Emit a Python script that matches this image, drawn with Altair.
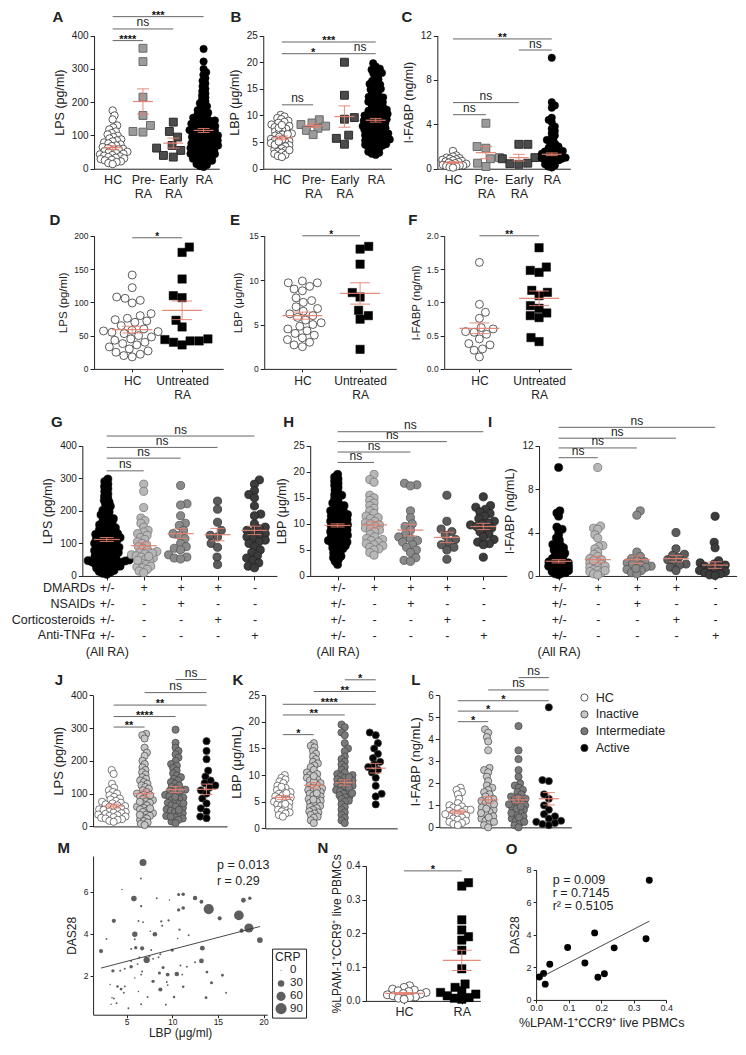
import math
import altair as alt
import pandas as pd

# ============================================================ DATA
# ---- A : LPS (pg/ml)
A_CATS = ['HC', 'Pre-|RA', 'Early|RA', 'RA']
A_HC = [175, 160, 148, 130, 124, 118, 112, 107, 103, 99, 95, 91, 88, 85, 82, 79, 76, 73, 70, 68, 65, 62,
        60, 58, 55, 53, 51, 49, 47, 45, 43, 41, 39, 37, 35, 33, 31, 29, 27, 25, 22, 20, 17, 14]
A_PRE = [362, 322, 215, 160, 130, 110, 112]
A_EARLY = [140, 112, 95, 70, 62, 55, 40, 35]
A_RA = [360, 322, 300, 290, 282, 272, 264, 256, 248, 240, 233, 226, 220, 214, 208, 202, 197, 192, 188, 184,
        180, 176, 172, 168, 165, 162, 159, 156, 153, 150, 147, 145, 142, 140, 138, 136, 134, 132, 130, 128,
        126, 124, 122, 120, 118, 116, 114, 112, 110, 108, 106, 104, 102, 100, 98, 96, 94, 92, 90, 88, 86, 84,
        82, 80, 78, 76, 74, 72, 70, 68, 66, 64, 62, 60, 58, 56, 54, 52, 50, 48, 46, 44, 42, 40, 38, 36, 34,
        32, 30, 28, 26, 24, 22, 20, 17, 14, 11, 8, 5, 125, 115, 105, 95, 85, 75, 65, 55, 45, 135, 145]
A_MEAN = [63, 202, 77, 115]
A_SEM = [6, 38, 15, 6]
A_SIG = [(0, 1, 385, '****'), (0, 2, 420, 'ns'), (0, 3, 457, '***')]

# ---- B : LBP (ug/ml)
B_HC = [10.1, 9.8, 9.5, 9.3, 9.0, 8.8, 8.6, 8.3, 8.0, 7.8, 7.5, 7.3, 7.0, 6.8, 6.6, 6.4, 6.2, 6.0, 5.8, 5.6,
        5.4, 5.2, 5.0, 4.8, 4.6, 4.4, 4.2, 4.0, 3.8, 3.6, 3.4, 3.2, 3.0, 2.8, 2.6, 2.4, 2.2, 5.5, 6.5, 7.7,
        4.5, 3.5, 8.2, 5.1]
B_PRE = [9.2, 8.6, 8.3, 8.0, 7.6, 7.2, 6.4]
B_EARLY = [20.0, 13.8, 9.6, 9.3, 6.3, 5.7, 4.6]
B_RA = [19.8, 19.2, 18.6, 18.3, 18.0, 17.6, 17.2, 16.8, 16.5, 16.2, 15.9, 15.6, 15.3, 15.0, 14.7, 14.4, 14.1,
        13.8, 13.5, 13.2, 13.0, 12.8, 12.5, 12.3, 12.1, 11.9, 11.7, 11.5, 11.3, 11.1, 10.9, 10.7, 10.5, 10.3,
        10.2, 10.0, 9.9, 9.7, 9.6, 9.4, 9.3, 9.1, 9.0, 8.8, 8.7, 8.5, 8.4, 8.2, 8.1, 7.9, 7.8, 7.6, 7.5, 7.3,
        7.2, 7.0, 6.9, 6.7, 6.6, 6.4, 6.3, 6.1, 6.0, 5.8, 5.7, 5.5, 5.4, 5.2, 5.1, 4.9, 4.8, 4.6, 4.5, 4.3,
        4.2, 4.0, 3.8, 3.6, 3.4, 3.2, 3.0, 2.8, 2.6, 12.6, 11.0, 9.8, 8.9, 8.0, 7.1, 6.2, 5.3, 4.4, 10.6,
        13.4, 14.9, 15.8, 17.9, 18.8]
B_MEAN = [5.8, 8.1, 9.8, 9.1]
B_SEM = [0.35, 0.35, 2.0, 0.35]
B_SIG = [(0, 1, 12.0, 'ns'), (0, 2, 21.6, '*'), (2, 3, 21.6, 'ns'), (0, 3, 23.8, '***')]

# ---- C : I-FABP (ng/ml)
C_HC = [1.6, 1.2, 1.1, 1.0, 0.95, 0.9, 0.85, 0.8, 0.75, 0.7, 0.65, 0.6, 0.55, 0.5, 0.45, 0.4, 0.35, 0.3,
        0.28, 0.25, 0.2, 0.15, 0.1]
C_PRE = [4.1, 2.0, 1.85, 1.0, 0.9, 0.5, 0.2]
C_EARLY = [2.2, 2.2, 1.0, 0.9, 0.5, 0.45, 0.4]
C_RA = [10.0, 6.0, 5.7, 5.5, 4.6, 4.4, 4.2, 3.8, 3.6, 3.4, 3.2, 3.0, 2.8, 2.6, 2.5, 2.4, 2.2, 2.1, 2.0, 1.9,
        1.8, 1.7, 1.6, 1.55, 1.5, 1.45, 1.4, 1.35, 1.3, 1.25, 1.2, 1.15, 1.1, 1.05, 1.0, 0.95, 0.9, 0.85,
        0.8, 0.75, 0.7, 0.6, 0.5, 0.4, 0.3, 0.2, 0.1]
C_MEAN = [0.55, 1.45, 1.0, 1.3]
C_SEM = [0.08, 0.55, 0.3, 0.12]
C_SIG = [(0, 1, 4.87, 'ns'), (0, 2, 5.96, 'ns'), (2, 3, 10.7, 'ns'), (0, 3, 11.7, '**')]

# ---- D / E / F : HC vs untreated RA
DEF_CATS = ['HC', 'Untreated|RA']
D_HC = [141, 122, 108, 106, 103, 99, 83, 80, 76, 74, 72, 70, 65, 60, 58, 57, 56, 55, 53, 50, 48, 45, 43,
        40, 38, 36, 33, 30, 27, 25, 22, 20, 18]
D_RA = [183, 175, 135, 110, 107, 73, 63, 45, 44, 42, 42, 40, 36]
D_MEAN = [59, 88]
D_SEM = [5, 14]
D_SIG = [(0, 1, 197, '*')]
E_HC = [9.9, 9.7, 9.7, 9.3, 9.0, 8.8, 8.0, 7.7, 7.5, 7.0, 6.8, 6.5, 6.2, 6.0, 5.8, 5.5, 5.2, 5.0, 4.8, 4.5,
        4.3, 4.0, 3.8, 3.5, 3.3, 3.0, 2.7, 2.5]
E_RA = [13.8, 13.5, 11.8, 8.6, 8.1, 6.6, 6.0, 5.6, 2.2]
E_MEAN = [6.0, 8.5]
E_SEM = [0.4, 1.2]
E_SIG = [(0, 1, 15.0, '*')]
F_HC = [1.6, 0.97, 0.85, 0.76, 0.62, 0.6, 0.56, 0.55, 0.52, 0.45, 0.38, 0.36, 0.30, 0.28, 0.18]
F_RA = [1.82, 1.53, 1.48, 1.45, 1.18, 1.15, 1.10, 0.95, 0.91, 0.84, 0.80, 0.77, 0.47, 0.41]
F_MEAN = [0.61, 1.06]
F_SEM = [0.08, 0.11]
F_SIG = [(0, 1, 2.0, '**')]

# ---- G / H / I : treatment groups
TREAT_COLS = ['+/-|+/-|+/-|+/-|(All RA)', '+|-|-|-', '+|+|-|-', '+|-|+|-', '-|-|-|+']
TREAT_ROWS = ['DMARDs', 'NSAIDs', 'Corticosteroids', 'Anti-TNFα']
G_ALL = [298, 290, 282, 275, 268, 260, 252, 245, 238, 232, 226, 220, 214, 208, 202, 197, 192, 188, 184, 180,
         176, 172, 168, 164, 160, 157, 154, 151, 148, 145, 142, 139, 136, 133, 130, 128, 126, 124, 122, 120,
         118, 116, 114, 112, 110, 108, 106, 104, 102, 100, 98, 96, 94, 92, 90, 88, 86, 84, 82, 80, 78, 76, 74,
         72, 70, 68, 66, 64, 62, 60, 58, 56, 54, 52, 50, 49, 47, 46, 45, 44, 43, 42, 41, 40, 38, 36, 34, 32,
         30, 28, 26, 24, 22, 20, 17, 14, 11, 8, 5]
G_DMARD = [282, 260, 210, 178, 170, 162, 150, 140, 135, 130, 125, 118, 112, 105, 100, 95, 90, 85, 80, 75,
           72, 68, 65, 62, 58, 55, 50, 45, 40, 35, 30, 28, 25, 20, 15, 10, 70, 60, 48]
G_NSAID = [278, 222, 218, 185, 162, 155, 140, 130, 125, 115, 100, 90, 85, 80, 65, 58, 55, 52]
G_CORT = [230, 205, 165, 140, 125, 120, 100, 88, 58, 35]
G_TNF = [295, 282, 262, 250, 240, 215, 190, 185, 160, 150, 145, 140, 135, 130, 125, 120, 115, 110, 105, 100,
         90, 80, 72, 62, 55, 48, 40, 30, 25]
G_MEAN = [112, 93, 130, 127, 140]
G_SEM = [6, 9, 15, 19, 13]
G_SIG = [(0, 1, 323, 'ns'), (0, 2, 362, 'ns'), (0, 3, 395, 'ns'), (0, 4, 430, 'ns')]

H_ALL = [19.5, 19.0, 18.6, 18.2, 17.8, 17.4, 17.0, 16.5, 16.0, 15.6, 15.2, 14.8, 14.4, 14.0, 13.7, 13.4,
         13.1, 12.8, 12.5, 12.2, 12.0, 11.8, 11.6, 11.4, 11.2, 11.0, 10.8, 10.6, 10.4, 10.2, 10.0, 9.8, 9.6,
         9.4, 9.2, 9.0, 8.8, 8.6, 8.4, 8.2, 8.0, 7.8, 7.6, 7.4, 7.2, 7.0, 6.8, 6.6, 6.4, 6.2, 6.0, 5.8, 5.6,
         5.4, 5.2, 5.0, 4.7, 4.4, 4.1, 3.8, 3.5, 3.2, 2.8, 2.2, 11.5, 10.5, 9.5, 8.5, 7.5, 6.5, 12.5, 13.5,
         15.5]
H_DMARD = [19.5, 18.5, 18.0, 15.5, 15.0, 14.5, 14.0, 13.5, 13.0, 12.5, 12.0, 11.5, 11.2, 11.0, 10.5, 10.2,
           10.0, 9.8, 9.5, 9.2, 9.0, 8.8, 8.5, 8.0, 7.5, 7.2, 7.0, 6.8, 6.5, 6.2, 6.0, 5.8, 5.5, 5.2, 5.0,
           4.5, 4.0]
H_NSAID = [17.8, 17.5, 17.3, 12.5, 11.2, 10.0, 9.5, 8.8, 8.0, 7.5, 7.2, 6.8, 6.5, 6.0, 5.5, 5.0, 4.5, 3.5,
           3.0, 2.8]
H_CORT = [15.5, 10.5, 9.0, 8.5, 7.8, 7.0, 6.5, 6.0, 5.5, 5.0, 3.2]
H_TNF = [15.2, 13.5, 13.2, 12.8, 12.3, 12.0, 11.5, 11.0, 10.5, 10.2, 10.0, 9.8, 9.5, 9.2, 9.0, 8.5, 8.0,
         7.5, 7.0, 6.5, 6.2, 6.0, 3.6]
H_MEAN = [9.7, 9.8, 8.8, 7.4, 9.5]
H_SEM = [0.3, 0.6, 1.1, 1.0, 0.6]
H_SIG = [(0, 1, 21.8, 'ns'), (0, 2, 23.8, 'ns'), (0, 3, 25.8, 'ns'), (0, 4, 27.7, 'ns')]

I_ALL = [10.0, 6.0, 5.8, 5.5, 4.5, 4.3, 4.2, 3.8, 3.5, 3.3, 3.0, 2.9, 2.8, 2.7, 2.6, 2.5, 2.4, 2.3, 2.2,
         2.1, 2.0, 1.9, 1.8, 1.7, 1.6, 1.5, 1.4, 1.3, 1.2, 1.1, 1.0, 0.9, 0.8, 0.7, 0.6, 0.5, 0.4, 0.3,
         0.2, 0.1, 1.25, 1.05, 0.85, 0.65, 0.45, 0.25, 1.15, 0.75]
I_DMARD = [10.0, 4.6, 4.4, 4.3, 3.8, 3.5, 2.8, 2.7, 2.5, 2.2, 2.0, 1.8, 1.6, 1.5, 1.3, 1.2, 1.1, 1.0, 0.9,
           0.8, 0.7, 0.6, 0.5, 0.4, 0.3, 0.2, 0.1, 1.4, 0.9, 0.5]
I_NSAID = [6.0, 5.6, 2.2, 1.8, 1.6, 1.4, 1.3, 1.2, 1.0, 0.9, 0.8, 0.6, 0.5, 0.3, 0.2, 1.1, 0.7]
I_CORT = [4.0, 2.5, 2.0, 1.9, 1.7, 1.5, 1.3, 1.1, 1.0, 0.8, 0.5]
I_TNF = [5.5, 3.1, 2.6, 1.4, 1.2, 1.1, 1.0, 0.9, 0.8, 0.7, 0.6, 0.5, 0.4, 0.3, 0.2, 0.1, 0.05]
I_MEAN = [1.35, 1.5, 1.5, 1.6, 1.0]
I_SEM = [0.15, 0.3, 0.35, 0.3, 0.3]
I_SIG = [(0, 1, 10.9, 'ns'), (0, 2, 11.8, 'ns'), (0, 3, 12.7, 'ns'), (0, 4, 13.7, 'ns')]

# ---- J / K / L : disease activity
ACT_NAMES = ['HC', 'Inactive', 'Intermediate', 'Active']
J_HC = [172, 160, 130, 118, 110, 105, 100, 95, 90, 85, 82, 78, 75, 72, 70, 67, 64, 62, 60, 57, 55, 52, 50,
        48, 46, 44, 42, 40, 38, 36, 34, 32, 30, 28, 26, 24, 22, 20, 17, 14]
J_INACT = [282, 278, 268, 240, 225, 215, 200, 190, 180, 172, 165, 158, 150, 145, 140, 135, 130, 125, 120, 115,
           110, 105, 100, 96, 92, 88, 84, 80, 76, 72, 68, 64, 60, 56, 52, 48, 44, 40, 36, 32, 28, 24, 20, 16,
           12, 8, 4, 95, 75, 55, 35]
J_INTER = [295, 255, 240, 230, 220, 210, 200, 190, 185, 178, 170, 162, 155, 150, 145, 140, 135, 130, 125, 120,
           116, 112, 108, 104, 100, 96, 92, 88, 84, 80, 76, 72, 68, 64, 60, 56, 52, 48, 44, 40, 36, 32, 28, 24,
           20, 15, 10, 110, 90, 70, 50, 30]
J_ACT = [260, 230, 205, 170, 152, 140, 132, 125, 118, 110, 100, 85, 70, 55, 45, 30, 25]
J_MEAN = [62, 100, 112, 113]
J_SEM = [6, 10, 9, 16]
J_SIG = [(0, 1, 303, '**'), (0, 2, 335, '****'), (0, 3, 370, '**'), (1, 3, 408, 'ns'), (2, 3, 448, 'ns')]

K_HC = [10.0, 9.5, 9.2, 8.8, 8.5, 8.0, 7.6, 7.2, 7.0, 6.8, 6.5, 6.2, 6.0, 5.8, 5.5, 5.3, 5.0, 4.8, 4.5, 4.3,
        4.0, 3.8, 3.5, 3.2, 3.0, 2.8, 2.5, 2.2, 6.6, 5.6, 4.6, 7.8]
K_INACT = [16.0, 15.5, 15.2, 14.5, 14.0, 13.5, 13.0, 12.5, 12.2, 11.8, 11.5, 11.0, 10.5, 10.2, 10.0, 9.5, 9.2,
           9.0, 8.5, 8.2, 8.0, 7.8, 7.5, 7.2, 7.0, 6.8, 6.5, 6.2, 6.0, 5.8, 5.5, 5.2, 5.0, 4.8, 4.5, 4.2, 4.0,
           3.8, 3.5, 3.2, 3.0, 2.8, 2.5, 2.2, 2.0, 1.5, 1.0, 7.4, 6.6, 5.4, 8.8, 9.8]
K_INTER = [19.5, 19.0, 18.0, 17.5, 16.0, 15.0, 14.5, 13.5, 13.0, 12.5, 12.0, 11.5, 11.0, 10.5, 10.2, 10.0, 9.8,
           9.5, 9.2, 9.0, 8.8, 8.5, 8.2, 8.0, 7.8, 7.5, 7.2, 7.0, 6.8, 6.5, 6.2, 6.0, 5.8, 5.5, 5.2, 5.0, 4.5,
           4.0, 3.5, 3.0, 2.5, 2.0, 1.5, 1.0, 8.6, 7.6, 6.6, 9.6]
K_ACT = [18.0, 17.5, 16.0, 15.0, 14.0, 13.2, 12.5, 12.0, 11.5, 11.0, 10.5, 9.5, 8.0, 6.5, 6.0, 4.5]
K_MEAN = [5.8, 8.1, 8.6, 11.3]
K_SEM = [0.35, 0.5, 0.5, 0.9]
K_SIG = [(0, 1, 17.6, '*'), (0, 2, 21.3, '**'), (0, 3, 23.3, '****'), (1, 3, 25.7, '**'), (2, 3, 27.9, '*')]

L_HC = [1.8, 1.7, 1.6, 1.5, 1.3, 1.1, 1.0, 0.95, 0.9, 0.85, 0.8, 0.75, 0.7, 0.65, 0.6, 0.55, 0.5, 0.45, 0.4,
        0.35, 0.3, 0.25, 0.2, 0.15, 0.1, 0.6, 0.8]
L_INACT = [4.45, 4.3, 4.1, 3.9, 3.5, 2.7, 2.6, 2.5, 2.3, 2.1, 1.9, 1.8, 1.7, 1.6, 1.5, 1.4, 1.3, 1.2, 1.1, 1.0,
           0.9, 0.8, 0.7, 0.6, 0.5, 0.4, 0.3, 0.2, 0.1, 0.0, 1.25, 1.05, 0.85, 0.65, 0.45, 0.25]
L_INTER = [4.6, 3.5, 3.1, 2.6, 2.3, 2.0, 1.9, 1.8, 1.7, 1.6, 1.5, 1.4, 1.3, 1.2, 1.1, 1.0, 0.9, 0.8, 0.7, 0.6,
           0.5, 0.4, 0.3, 0.2, 0.1, 0.0, 1.25, 1.05, 0.85, 0.65, 0.45, 0.25, 1.35, 0.95]
L_ACT = [5.45, 2.15, 2.1, 1.5, 1.3, 1.0, 0.8, 0.6, 0.5, 0.4, 0.3, 0.25, 0.2, 0.15, 0.1]
L_MEAN = [0.7, 1.25, 1.25, 1.3]
L_SEM = [0.08, 0.15, 0.13, 0.28]
L_SIG = [(0, 1, 4.8, '*'), (0, 2, 5.28, '*'), (0, 3, 5.75, '*'), (1, 3, 6.24, 'ns'), (2, 3, 6.8, 'ns')]

# ---- M : LBP vs DAS28 (size = CRP)
M_LBP = [6.8, 6.57, 4.5, 5.8, 6.6, 8.3, 9.7, 10.7, 11.2, 12.5, 13.2, 14.0, 10.7, 11.2, 15.2, 17.3, 17.8, 18.5,
         18.4, 17.6, 19.6, 3.6, 6.3, 6.8, 8.8, 9.6, 8.9, 5.9, 8.1, 10.8, 7.6, 2.8, 5.9, 2.2, 6.0, 6.7, 7.2,
         5.5, 7.7, 8.7, 10.0, 13.3, 13.2, 12.5, 11.6, 10.9, 5.5, 6.2, 7.5, 8.5, 9.0, 3.5, 4.3, 4.8, 5.5, 6.7,
         8.6, 9.5, 10.5, 11.1, 13.8, 15.5, 5.9, 6.6, 7.9, 9.4, 14.3, 3.2, 4.0, 4.4, 4.8, 8.7, 9.5, 11.2, 6.3,
         4.7, 3.4, 3.6, 7.3, 10.2, 13.7, 15.9, 3.3, 3.9, 6.6, 9.3, 5.2, 6.4, 7.9, 11.8, 10.6]
M_DAS = [7.39, 6.63, 6.1, 5.67, 5.31, 5.69, 5.6, 5.86, 5.88, 5.7, 5.52, 5.17, 5.13, 5.22, 4.73, 4.87, 5.59,
         5.69, 4.27, 4.14, 3.69, 4.61, 4.6, 4.55, 4.58, 4.63, 4.38, 3.97, 3.97, 4.19, 4.11, 3.75, 3.73, 3.17,
         3.33, 3.30, 2.75, 3.27, 3.22, 3.02, 3.22, 3.31, 2.7, 2.64, 2.42, 2.48, 2.42, 2.55, 2.92, 2.88, 2.39,
         2.23, 2.23, 2.33, 2.70, 2.20, 2.13, 2.05, 2.08, 2.05, 2.17, 2.02, 1.89, 2.05, 1.73, 1.70, 1.66, 1.58,
         1.48, 1.36, 1.48, 1.34, 1.55, 1.47, 1.25, 1.19, 0.95, 0.91, 0.98, 0.98, 0.95, 1.19, 0.64, 0.69, 0.64,
         0.61, 0.45, 2.86, 2.8, 3.92, 3.77]
M_CRP = [35, 2, 1, 22, 3, 2, 1, 6, 8, 14, 10, 75, 7, 9, 12, 68, 16, 8, 60, 12, 22, 12, 2, 2, 3, 3, 2, 20, 15, 3,
         1, 2, 2, 12, 7, 12, 28, 2, 2, 2, 7, 16, 16, 2, 2, 2, 8, 2, 2, 2, 6, 7, 2, 2, 2, 2, 6, 10, 14, 2, 5, 5,
         1, 2, 7, 2, 6, 1, 4, 5, 2, 12, 2, 4, 1, 2, 1, 2, 2, 4, 5, 2, 1, 2, 2, 2, 2, 2, 2, 2, 1]
M_FIT_X = [2.2, 19.6]
M_FIT_Y = [2.36, 4.34]
M_STATS = ['p = 0.013', 'r = 0.29']

# ---- N : %LPAM-1+CCR9+ live PBMCs
N_CATS = ['HC', 'RA']
N_HC = [0.045, 0.04, 0.035, 0.032, 0.03, 0.028, 0.025, 0.022, 0.02, 0.018, 0.015, 0.012, 0.01, 0.008, 0.005]
N_RA = [0.35, 0.34, 0.24, 0.21, 0.19, 0.18, 0.15, 0.095, 0.05, 0.04, 0.03, 0.025, 0.02, 0.015, 0.01, 0.008,
        0.005]
N_MEAN = [0.022, 0.12]
N_SEM = [0.003, 0.03]
N_SIG = [(0, 1, 0.385, '*')]

# ---- O : %LPAM-1+CCR9+ vs DAS28
O_PCT = [0.348, 0.338, 0.24, 0.21, 0.19, 0.18, 0.15, 0.097, 0.042, 0.023, 0.01, 0.028]
O_DAS = [7.36, 3.76, 3.20, 1.61, 1.39, 4.12, 2.27, 3.22, 2.19, 1.63, 1.41, 0.97]
O_FIT_X = [0.02, 0.348]
O_FIT_Y = [1.45, 4.84]
O_STATS = ['p = 0.009', 'r = 0.7145', 'r² = 0.5105']

LETTERS = list('ABCDEFGHIJKLMNO')

# ============================================================ LAYOUT / STYLE
W, H = 730, 1035
FONT = 'Liberation Sans'
INK = '#222222'
RED = '#e3806f'
SIGC = '#666666'


def X(r):
    return round(r * 0.978, 2)


def Y(r):
    return round((r - 3) * 0.986, 2)


LETTER_X = [51, 233, 408, 48, 232, 414, 50, 287, 493, 52, 235, 417, 57, 322, 515]
LETTER_Y = [12, 12, 12, 218, 218, 218, 423, 423, 423, 685, 685, 685, 855, 855, 856]

ST_HC = dict(shape='circle', size=55, fill='white', stroke='#333333', sw=0.8)
ST_BLK = dict(shape='circle', size=55, fill='black', stroke='black', sw=0.5)
ST_PRE = dict(shape='square', size=62, fill='#9b9b9b', stroke='#6a6a6a', sw=1)
ST_EARLY = dict(shape='square', size=62, fill='#4b4b4b', stroke='#2b2b2b', sw=1)
ST_BSQ = dict(shape='square', size=70, fill='black', stroke='black', sw=0.5)
ST_HC2 = dict(shape='circle', size=64, fill='white', stroke='#333333', sw=0.8)
ST_G0 = dict(shape='circle', size=66, fill='black', stroke='black', sw=0.5)
ST_G1 = dict(shape='circle', size=66, fill='#b7b7b7', stroke='#777777', sw=0.8)
ST_G2 = dict(shape='circle', size=66, fill='#8a8a8a', stroke='#555555', sw=0.8)
ST_G3 = dict(shape='circle', size=66, fill='#5c5c5c', stroke='#333333', sw=0.8)
ST_G4 = dict(shape='circle', size=66, fill='#3c3c3c', stroke='#222222', sw=0.8)
ST_ACT = dict(shape='circle', size=52, fill='', stroke='#444444', sw=0.7)
ACT_FILLS = ['white', '#c6c6c6', '#7a7a7a', 'black']

ROW1 = dict(y_top=31, y_bot=166, tick_fs=10, title_fs=12.5, xlab_fs=12.5, xlab_lh=14, xtick=0, xpad=5,
            mw=10, cw=6, ns_fs=12, star_fs=11)
ROW2 = dict(y_top=234, y_bot=369, tick_fs=8.5, title_fs=11.5, xlab_fs=12, xlab_lh=14, xtick=3, xpad=4,
            mw=20, cw=10, ns_fs=11, star_fs=10)
ROW3 = dict(y_top=447, y_bot=579, tick_fs=10, title_fs=12.5, xlab_fs=12.5, xlab_lh=15.8, xtick=4, xpad=2,
            mw=13, cw=7, ns_fs=12, star_fs=11)
ROW4 = dict(y_top=700, y_bot=833, tick_fs=10, title_fs=13, mw=10, cw=6, ns_fs=12, star_fs=11)

# beeswarm spacing (px) per group
LAY = {
    'A': dict(ROW1, axis_x=88, x_end=216, cats=(107, 200), ymax=400, yticks=[0, 100, 200, 300, 400],
              ytitle='LPS (pg/ml)', xlabels=A_CATS, d=[4.4, 10, 10, 3.9]),
    'B': dict(ROW1, axis_x=261, x_end=392, cats=(280, 376), ymax=25, yticks=[0, 5, 10, 15, 20, 25],
              ytitle='LBP (μg/ml)', xlabels=A_CATS, d=[4.1, 8, 10, 4.1]),
    'C': dict(ROW1, axis_x=439, x_end=575, cats=(455, 556), ymax=12, yticks=[0, 4, 8, 12],
              ytitle='I-FABP (ng/ml)', xlabels=A_CATS, d=[3.5, 9, 9, 3.8]),
    'D': dict(ROW2, axis_x=88, x_end=220, cats=(127, 178), ymax=200, yticks=[0, 50, 100, 150, 200],
              ytitle='LPS (pg/ml)', xlabels=DEF_CATS, d=[8.5, 9]),
    'E': dict(ROW2, axis_x=262, x_end=397, cats=(301, 360), ymax=15, yticks=[0, 5, 10, 15],
              ytitle='LBP (μg/ml)', xlabels=DEF_CATS, d=[8.5, 9]),
    'F': dict(ROW2, axis_x=446, x_end=576, cats=(482, 543), ymax=2.0, yticks=[0, 0.5, 1.0, 1.5, 2.0],
              yfmt='.1f', ytitle='I-FABP (ng/ml)', xlabels=DEF_CATS, d=[8.5, 9]),
    'G': dict(ROW3, axis_x=76, x_end=275, cats=(101, 252), ymax=400, yticks=[0, 100, 200, 300, 400],
              ytitle='LPS (pg/ml)', xlabels=TREAT_COLS, d=[4.1, 4.8, 6.5, 7.5, 6.5]),
    'H': dict(ROW3, axis_x=309, x_end=510, cats=(337, 486), ymax=25, yticks=[0, 5, 10, 15, 20, 25],
              ytitle='LBP (μg/ml)', xlabels=TREAT_COLS, d=[4.0, 5.0, 6.5, 7.5, 6.2]),
    'I': dict(ROW3, axis_x=543, x_end=745, cats=(563, 723), ymax=12, yticks=[0, 4, 8, 12],
              ytitle='I-FABP (ng/mL)', xlabels=TREAT_COLS, d=[3.7, 4.3, 5.5, 6.5, 5.5]),
    'J': dict(ROW4, axis_x=87, x_end=224, cats=(108, 203), ymax=400, yticks=[0, 100, 200, 300, 400],
              ytitle='LPS (pg/ml)', d=[4.4, 4.0, 4.4, 6.5]),
    'K': dict(ROW4, axis_x=263, x_end=398, cats=(281, 376), y_bot=835, ymax=25,
              yticks=[0, 5, 10, 15, 20, 25], ytitle='LBP (μg/mL)', d=[4.2, 4.0, 4.2, 6.5]),
    'L': dict(ROW4, axis_x=441, x_end=576, cats=(460, 553), y_bot=834, ymax=6,
              yticks=[0, 1, 2, 3, 4, 5, 6], ytitle='I-FABP (ng/mL)', d=[4.6, 4.6, 4.6, 6.5]),
    'N': dict(axis_x=366, x_end=483, cats=(405, 464), y_top=873, y_bot=1010, ymax=0.4,
              yticks=[0, 0.1, 0.2, 0.3, 0.4], yfmt='.1f', ytitle='%LPAM-1⁺CCR9⁺ live PBMCs',
              xlabels=N_CATS, tick_fs=10, title_fs=12, tpad=3, xlab_fs=12.5, xlab_lh=14, xtick=3, xpad=2,
              d=[5.8, 7.5], mw=19, cw=10, ns_fs=12, star_fs=11),
}


def ax(**kw):
    base = dict(grid=False, domainColor=INK, tickColor=INK, labelColor=INK, titleColor=INK,
                labelFont=FONT, titleFont=FONT, titleFontWeight='normal', domainWidth=1, tickWidth=1)
    base.update(kw)
    return alt.Axis(**base)


def swarm(vals, ppu, d):
    """deterministic beeswarm layout: horizontal pixel offset of every point"""
    order = sorted(range(len(vals)), key=lambda k: vals[k])
    placed = []
    out = [0.0] * len(vals)
    for n_, k in enumerate(order):
        y = vals[k] * ppu
        near = [(py, px) for (py, px) in placed if abs(py - y) < d]
        cands = [0.0]
        for py, px in near:
            dx = math.sqrt(max(d * d - (py - y) ** 2, 0.0))
            cands += [px - dx, px + dx]
        sgn = 1 if n_ % 2 else -1
        cands.sort(key=lambda c: (round(abs(c), 6), sgn * c))
        for c in cands:
            if all((c - px) ** 2 + (y - py) ** 2 >= d * d - 1e-6 for py, px in near):
                out[k] = c
                placed.append((y, c))
                break
    return out


ACT_LEGEND = alt.Legend(orient='none', legendX=X(583), legendY=Y(696), title=None, labelFont=FONT,
                        labelFontSize=12.5, labelColor=INK, symbolType='circle', symbolSize=52,
                        symbolStrokeColor='#333333', symbolStrokeWidth=0.8, rowPadding=3.8, labelOffset=5)


def cat_panel(groups, styles, means, sems, sig, L, names=None):
    n = len(groups)
    c0, c1 = L['cats']
    step = (c1 - c0) / (n - 1)
    xdom = [(L['axis_x'] - c0) / step, (L['x_end'] - c0) / step]
    x0, x1 = X(L['axis_x']), X(L['x_end'])
    yt, yb = Y(L['y_top']), Y(L['y_bot'])
    ymax = L['ymax']
    xs = alt.Scale(domain=xdom, range=[x0, x1], nice=False, zero=False)
    ys = alt.Scale(domain=[0, ymax], range=[yb, yt], nice=False, zero=False)
    ppu_y = (yb - yt) / ymax
    ppu_x = (x1 - x0) / (xdom[1] - xdom[0])

    ykw = dict(orient='left', offset=-x0, values=L['yticks'], title=L['ytitle'],
               labelFontSize=L['tick_fs'], titleFontSize=L['title_fs'], tickSize=4,
               labelPadding=2, titlePadding=L.get('tpad', 5))
    if 'yfmt' in L:
        ykw['format'] = L['yfmt']
    yaxis = ax(**ykw)
    if L.get('xlabels'):
        expr = ("split([" + ",".join("'" + s + "'" for s in L['xlabels']) +
                "][round(datum.value)], '|')")
        xaxis = ax(orient='bottom', offset=yb - H, values=list(range(n)), title=None, labelExpr=expr,
                   labelFontSize=L['xlab_fs'], labelLineHeight=L['xlab_lh'], tickSize=L['xtick'],
                   labelPadding=L['xpad'], labelOverlap=False, labelFlush=False, labelBound=False)
    else:
        xaxis = ax(orient='bottom', offset=yb - H, values=list(range(n)), title=None, labels=False,
                   ticks=False)

    # every sub-layer carries the same axis definition so that they merge into one axis
    def xq(f):
        return alt.X(f + ':Q', scale=xs, axis=xaxis)

    def yq(f):
        return alt.Y(f + ':Q', scale=ys, axis=yaxis)

    layers = []
    for gi, vals in enumerate(groups):
        st = styles[gi]
        offs = swarm(vals, ppu_y, L['d'][gi])
        df = pd.DataFrame({'x': [gi + o / ppu_x for o in offs], 'v': vals})
        mk_kw = dict(shape=st['shape'], size=st['size'], filled=True, opacity=1, stroke=st['stroke'],
                     strokeWidth=st['sw'])
        enc = dict(x=xq('x'), y=yq('v'))
        if names:
            df['g'] = names[gi]
            enc['fill'] = alt.Fill('g:N', scale=alt.Scale(domain=names, range=ACT_FILLS), legend=ACT_LEGEND)
        else:
            mk_kw['fill'] = st['fill']
        layers.append(alt.Chart(df).mark_point(**mk_kw).encode(**enc))

    mw = L['mw'] / ppu_x
    cw = L['cw'] / ppu_x
    ms = pd.DataFrame({'i': list(range(n)), 'm': means, 's': sems})
    ms['xl'] = ms['i'] - mw
    ms['xr'] = ms['i'] + mw
    ms['cl'] = ms['i'] - cw
    ms['cr'] = ms['i'] + cw
    ms['lo'] = ms['m'] - ms['s']
    ms['hi'] = ms['m'] + ms['s']
    base = alt.Chart(ms)
    layers += [
        base.mark_rule(color=RED, strokeWidth=1.3, opacity=0.9).encode(x=xq('xl'), x2=alt.X2('xr'), y=yq('m')),
        base.mark_rule(color=RED, strokeWidth=1, opacity=0.9).encode(x=xq('i'), y=yq('lo'), y2=alt.Y2('hi')),
        base.mark_rule(color=RED, strokeWidth=1, opacity=0.9).encode(x=xq('cl'), x2=alt.X2('cr'), y=yq('lo')),
        base.mark_rule(color=RED, strokeWidth=1, opacity=0.9).encode(x=xq('cl'), x2=alt.X2('cr'), y=yq('hi')),
    ]

    sd = pd.DataFrame({'a': [s[0] for s in sig], 'b': [s[1] for s in sig],
                       'v': [s[2] for s in sig], 'lab': [s[3] for s in sig]})
    sd['m'] = (sd['a'] + sd['b']) / 2
    layers.append(alt.Chart(sd).mark_rule(color=SIGC, strokeWidth=1).encode(
        x=xq('a'), x2=alt.X2('b'), y=yq('v')))
    ns = sd[sd['lab'] == 'ns']
    stars = sd[sd['lab'] != 'ns']
    if len(ns):
        layers.append(alt.Chart(ns).mark_text(font=FONT, fontSize=L['ns_fs'], color=INK,
                                              baseline='alphabetic', dy=-2.5).encode(
            x=xq('m'), y=yq('v'), text='lab:N'))
    if len(stars):
        layers.append(alt.Chart(stars).mark_text(font=FONT, fontSize=L['star_fs'], color='#111111',
                                                 fontWeight='bold', baseline='alphabetic', dy=2).encode(
            x=xq('m'), y=yq('v'), text='lab:N'))
    return alt.layer(*layers)


PXS = alt.Scale(domain=[0, W], range=[0, W], nice=False, zero=False)
PYS = alt.Scale(domain=[0, H], range=[0, H], nice=False, zero=False)


def pix_text(texts, xs_, ys_, **kw):
    df = pd.DataFrame({'t': texts, 'px': xs_, 'py': ys_})
    return alt.Chart(df).mark_text(font=FONT, color=INK, **kw).encode(
        x=alt.X('px:Q', scale=PXS, axis=None), y=alt.Y('py:Q', scale=PYS, axis=None), text='t:N')


def panel_m():
    xs = alt.Scale(domain=[1.33, 20.4], range=[X(87), X(265)], nice=False, zero=False)
    ys = alt.Scale(domain=[0.14, 7.7], range=[Y(1024), Y(863)], nice=False, zero=False)
    yaxis = ax(orient='left', offset=-X(87), values=[2, 4, 6], title='DAS28', labelFontSize=8.5,
               titleFontSize=12, tickSize=3, labelPadding=2, titlePadding=5)
    xaxis = ax(orient='bottom', offset=Y(1024) - H, values=[5, 10, 15, 20], title='LBP (μg/ml)',
               labelFontSize=8.5, titleFontSize=12, tickSize=3, labelPadding=0, titlePadding=1,
               labelFlush=False)
    crp_leg = alt.Legend(orient='none', legendX=X(270), legendY=Y(957), title='CRP', titleFont=FONT,
                         titleFontSize=12, titleFontWeight='normal', titleColor=INK, labelFont=FONT,
                         labelFontSize=11.5, labelColor=INK, values=[0, 30, 60, 90], strokeColor=INK,
                         fillColor='white', padding=3, symbolType='circle', symbolFillColor='#555555',
                         symbolStrokeWidth=0, rowPadding=0, titlePadding=1, labelOffset=3)
    df = pd.DataFrame({'lbp': M_LBP, 'das': M_DAS, 'crp': M_CRP})
    ex = alt.X('lbp:Q', scale=xs, axis=xaxis)
    ey = alt.Y('das:Q', scale=ys, axis=yaxis)
    pts = alt.Chart(df).mark_circle(color='#555555', opacity=0.95).encode(
        x=ex, y=ey,
        size=alt.Size('crp:Q', scale=alt.Scale(domain=[0, 90], range=[1, 125]), legend=crp_leg))
    fit = alt.Chart(pd.DataFrame({'lbp': M_FIT_X, 'das': M_FIT_Y})).mark_line(
        color='#333333', strokeWidth=0.9).encode(x=ex, y=ey)
    txt = alt.Chart(pd.DataFrame({'lbp': [14.9, 14.9], 'das': [7.27, 6.52], 't': M_STATS})).mark_text(
        font=FONT, fontSize=12.5, color=INK, align='left', baseline='middle').encode(x=ex, y=ey, text='t:N')
    return alt.layer(pts, fit, txt)


def panel_o():
    xs = alt.Scale(domain=[0, 0.4], range=[X(540), X(673)], nice=False, zero=False)
    ys = alt.Scale(domain=[0, 8], range=[Y(1009), Y(877)], nice=False, zero=False)
    yaxis = ax(orient='left', offset=-X(540), values=[0, 2, 4, 6, 8], title='DAS28', labelFontSize=9,
               titleFontSize=12, tickSize=3, labelPadding=2, titlePadding=5)
    xaxis = ax(orient='bottom', offset=Y(1009) - H, values=[0, 0.1, 0.2, 0.3, 0.4], format='.1f',
               title='%LPAM-1⁺CCR9⁺ live PBMCs', labelFontSize=9, titleFontSize=12.5, tickSize=3,
               labelPadding=1, titlePadding=4, labelFlush=False)
    ex = alt.X('p:Q', scale=xs, axis=xaxis)
    ey = alt.Y('das:Q', scale=ys, axis=yaxis)
    df = pd.DataFrame({'p': O_PCT, 'das': O_DAS})
    pts = alt.Chart(df).mark_circle(color='black', opacity=1, size=48).encode(x=ex, y=ey)
    fit = alt.Chart(pd.DataFrame({'p': O_FIT_X, 'das': O_FIT_Y})).mark_line(
        color='#333333', strokeWidth=0.9).encode(x=ex, y=ey)
    txt = alt.Chart(pd.DataFrame({'p': [0.051] * 3, 'das': [7.4, 6.6, 5.8], 't': O_STATS})).mark_text(
        font=FONT, fontSize=12.5, color=INK, align='left', baseline='middle').encode(x=ex, y=ey, text='t:N')
    return alt.layer(pts, fit, txt)


panels = [
    cat_panel([A_HC, A_PRE, A_EARLY, A_RA], [ST_HC, ST_PRE, ST_EARLY, ST_BLK], A_MEAN, A_SEM, A_SIG, LAY['A']),
    cat_panel([B_HC, B_PRE, B_EARLY, B_RA], [ST_HC, ST_PRE, ST_EARLY, ST_BLK], B_MEAN, B_SEM, B_SIG, LAY['B']),
    cat_panel([C_HC, C_PRE, C_EARLY, C_RA], [ST_HC, ST_PRE, ST_EARLY, ST_BLK], C_MEAN, C_SEM, C_SIG, LAY['C']),
    cat_panel([D_HC, D_RA], [ST_HC2, ST_BSQ], D_MEAN, D_SEM, D_SIG, LAY['D']),
    cat_panel([E_HC, E_RA], [ST_HC2, ST_BSQ], E_MEAN, E_SEM, E_SIG, LAY['E']),
    cat_panel([F_HC, F_RA], [ST_HC2, ST_BSQ], F_MEAN, F_SEM, F_SIG, LAY['F']),
    cat_panel([G_ALL, G_DMARD, G_NSAID, G_CORT, G_TNF], [ST_G0, ST_G1, ST_G2, ST_G3, ST_G4],
              G_MEAN, G_SEM, G_SIG, LAY['G']),
    cat_panel([H_ALL, H_DMARD, H_NSAID, H_CORT, H_TNF], [ST_G0, ST_G1, ST_G2, ST_G3, ST_G4],
              H_MEAN, H_SEM, H_SIG, LAY['H']),
    cat_panel([I_ALL, I_DMARD, I_NSAID, I_CORT, I_TNF], [ST_G0, ST_G1, ST_G2, ST_G3, ST_G4],
              I_MEAN, I_SEM, I_SIG, LAY['I']),
    cat_panel([J_HC, J_INACT, J_INTER, J_ACT], [ST_ACT] * 4, J_MEAN, J_SEM, J_SIG, LAY['J'], names=ACT_NAMES),
    cat_panel([K_HC, K_INACT, K_INTER, K_ACT], [ST_ACT] * 4, K_MEAN, K_SEM, K_SIG, LAY['K'], names=ACT_NAMES),
    cat_panel([L_HC, L_INACT, L_INTER, L_ACT], [ST_ACT] * 4, L_MEAN, L_SEM, L_SIG, LAY['L'], names=ACT_NAMES),
    panel_m(),
    cat_panel([N_HC, N_RA], [ST_HC2, ST_BSQ], N_MEAN, N_SEM, N_SIG, LAY['N']),
    panel_o(),
]

# panel letters
panels.append(pix_text(LETTERS, [X(v) for v in LETTER_X], [Y(v) for v in LETTER_Y],
                       fontSize=15, fontWeight='bold', align='center', baseline='middle'))
# treatment row headers of panel G (aligned with the axis label lines)
row_top = Y(579) + ROW3['xtick'] + ROW3['xpad']
panels.append(pix_text(TREAT_ROWS, [X(89)] * 4, [row_top + k * ROW3['xlab_lh'] for k in range(4)],
                       fontSize=12.5, align='right', baseline='top'))

chart = (alt.layer(*panels)
         .resolve_scale(x='independent', y='independent')
         .resolve_axis(x='independent', y='independent')
         .properties(width=W, height=H, padding=0, autosize=alt.AutoSizeParams(type='none'))
         .configure_view(stroke=None))

chart.save('out.html', embed_options={'renderer': 'svg', 'actions': False})
